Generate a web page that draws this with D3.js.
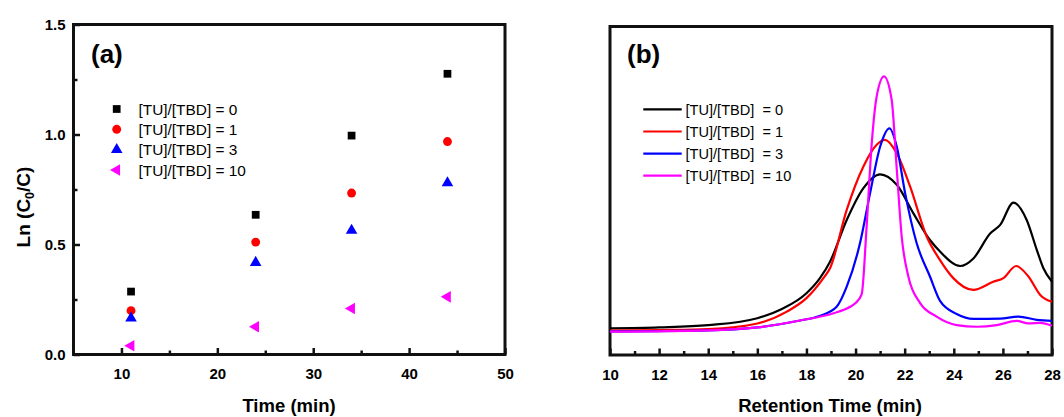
<!DOCTYPE html>
<html><head><meta charset="utf-8">
<script src="https://cdn.jsdelivr.net/npm/d3@7"></script>
<style>
html,body{margin:0;padding:0;background:#fff;}
svg{display:block;}
text{font-family:"Liberation Sans",Arial,sans-serif;}
</style></head>
<body>
<svg id="chart" width="1064" height="417" xmlns="http://www.w3.org/2000/svg"></svg>
<script>
// ---------- Panel (a) data ----------
const seriesLabels = ["[TU]/[TBD] = 0", "[TU]/[TBD] = 1", "[TU]/[TBD] = 3", "[TU]/[TBD] = 10"];
const seriesLabelsB = ["[TU]/[TBD]\u00a0\u00a0= 0", "[TU]/[TBD]\u00a0\u00a0= 1", "[TU]/[TBD]\u00a0\u00a0= 3", "[TU]/[TBD]\u00a0\u00a0= 10"];
const seriesColors = ["#000000", "#ff0000", "#0000ff", "#ff00ff"];
const timesA = [11, 24, 34, 44];
const lnTU0 = [0.286, 0.635, 0.995, 1.276];
const lnTU1 = [0.199, 0.511, 0.734, 0.968];
const lnTU3 = [0.165, 0.418, 0.564, 0.780];
const lnTU10 = [0.040, 0.126, 0.209, 0.262];
const xTicksA = [10, 20, 30, 40, 50];
const yTicksA = [0.0, 0.5, 1.0, 1.5];

// ---------- Panel (b) data (GPC traces, arbitrary intensity) ----------
const xTicksB = [10, 12, 14, 16, 18, 20, 22, 24, 26, 28];
const rtTU0  = [10, 12, 14, 16, 17, 18, 18.55, 18.96, 19.64, 20.32, 21.0, 21.68, 22.35, 23.03, 23.44, 24.26, 24.8, 25.48, 25.89, 26.43, 26.97, 27.38, 27.65, 28];
const gpcTU0 = [8.1, 8.4, 9.1, 11.2, 14.0, 18.8, 23.4, 28.4, 41.1, 50.8, 55.0, 51.8, 43.2, 35.0, 31.5, 27.1, 29.4, 37.0, 39.6, 46.4, 41.1, 32.0, 26.4, 22.3];
const rtTU1  = [10, 12, 14, 16, 17.2, 18, 18.69, 18.96, 19.64, 20.32, 20.86, 21.2, 21.68, 22.22, 22.9, 23.44, 23.98, 24.8, 25.61, 26.02, 26.54, 27.04, 27.52, 28];
const gpcTU1 = [7.4, 7.6, 7.9, 9.6, 13.2, 17.3, 23.4, 26.4, 44.2, 57.4, 64.0, 65.5, 61.4, 51.3, 36.0, 28.9, 23.4, 19.8, 22.3, 23.4, 27.1, 23.9, 18.3, 16.2];
const rtTU3  = [10, 14, 16, 17.74, 18.5, 19.23, 19.64, 20.18, 20.59, 21.0, 21.38, 21.68, 22.02, 22.49, 23.03, 23.44, 24.12, 24.8, 25.89, 26.63, 27.38, 28];
const gpcTU3 = [7.2, 7.5, 8.4, 10.5, 11.8, 14.7, 20.8, 34.0, 49.2, 63.4, 69.0, 63.4, 49.2, 34.0, 23.9, 16.5, 12.5, 11.0, 11.1, 11.7, 10.7, 10.4];
const rtTU10  = [10, 14, 16, 17.74, 19.1, 19.78, 20.0, 20.25, 20.45, 20.66, 20.86, 21.16, 21.47, 21.68, 21.88, 22.15, 22.63, 23.3, 24.12, 24.94, 25.75, 26.56, 27.04, 27.52, 28];
const gpcTU10 = [7.1, 7.5, 8.4, 10.5, 12.7, 14.7, 15.8, 18.5, 39.0, 64.5, 78.7, 84.8, 77.7, 56.4, 36.0, 23.9, 15.8, 11.7, 9.1, 8.6, 9.1, 10.4, 9.6, 9.8, 8.9];

const svg = d3.select("#chart");
const INK = "#111111";

const A = {l: 73.5, r: 505, t: 24.5, b: 354.5};
const xA = d3.scaleLinear().domain([5, 50]).range([A.l, A.r]);
const yA = d3.scaleLinear().domain([0, 1.5]).range([A.b, A.t]);
const B = {l: 610, r: 1052, t: 26.5, b: 355};
const xB = d3.scaleLinear().domain([10, 28]).range([B.l, B.r]);
const yB = d3.scaleLinear().domain([0, 100]).range([B.b, B.t]);

// ----- frames (stroked rects, drawn first) -----
[A, B].forEach(P => {
  svg.append("rect").attr("x", P.l).attr("y", P.t).attr("width", P.r - P.l).attr("height", P.b - P.t)
    .attr("fill", "none").attr("stroke", INK).attr("stroke-width", 3);
});

function styleAxis(g) {
  g.select(".domain").remove();
  g.selectAll(".tick line").attr("stroke", INK).attr("stroke-width", 2.5);
  g.selectAll(".tick text").attr("font-family", '"Liberation Sans",Arial,sans-serif')
    .attr("font-size", 15).attr("font-weight", "bold").attr("fill", "#000");
}

// ----- Panel (a) axes -----
svg.append("g").attr("transform", `translate(0,${A.b})`)
  .call(d3.axisBottom(xA).tickValues(xTicksA).tickSizeInner(-6.5).tickSizeOuter(0).tickPadding(14).tickFormat(d3.format("d")))
  .call(styleAxis);
svg.append("g").attr("transform", `translate(0,${A.b})`)
  .call(d3.axisBottom(xA).tickValues([15, 25, 35, 45]).tickSizeInner(-4).tickSizeOuter(0).tickFormat(() => ""))
  .call(styleAxis);
svg.append("g").attr("transform", `translate(${A.l},0)`)
  .call(d3.axisLeft(yA).tickValues(yTicksA).tickSizeInner(-6.5).tickSizeOuter(0).tickPadding(8).tickFormat(d3.format(".1f")))
  .call(styleAxis);
svg.append("g").attr("transform", `translate(${A.l},0)`)
  .call(d3.axisLeft(yA).tickValues([0.25, 0.75, 1.25]).tickSizeInner(-4).tickSizeOuter(0).tickFormat(() => ""))
  .call(styleAxis);

// ----- Panel (b) axes -----
svg.append("g").attr("transform", `translate(0,${B.b})`)
  .call(d3.axisBottom(xB).tickValues(xTicksB).tickSizeInner(-6.5).tickSizeOuter(0).tickPadding(14).tickFormat(d3.format("d")))
  .call(styleAxis);
svg.append("g").attr("transform", `translate(0,${B.b})`)
  .call(d3.axisBottom(xB).tickValues(d3.range(11, 28, 2)).tickSizeInner(-4).tickSizeOuter(0).tickFormat(() => ""))
  .call(styleAxis);

// ----- Panel (a) marks -----
const symTypes = [d3.symbolSquare, d3.symbolCircle, d3.symbolTriangle, d3.symbolTriangle];
const symSizes = [60, 62, 58, 58];
const symRot = [0, 0, 0, -90];
const seriesA = [lnTU0, lnTU1, lnTU3, lnTU10];
seriesA.forEach((vals, i) => {
  const sym = d3.symbol().type(symTypes[i]).size(symSizes[i]);
  svg.selectAll(null).data(timesA.map((t, k) => [t, vals[k]])).join("path")
    .attr("d", sym)
    .attr("transform", d => `translate(${xA(d[0])},${yA(d[1])}) rotate(${symRot[i]})`)
    .attr("fill", seriesColors[i]);
});
const legA = [109, 129.3, 149.6, 170];
seriesLabels.forEach((lab, i) => {
  const sym = d3.symbol().type(symTypes[i]).size(symSizes[i]);
  svg.append("path").attr("d", sym)
    .attr("transform", `translate(116.7,${legA[i]}) rotate(${symRot[i]})`)
    .attr("fill", seriesColors[i]);
  svg.append("text").attr("x", 138.5).attr("y", legA[i] + 5.5)
    .attr("font-size", 15.4).text(lab);
});
svg.append("text").attr("x", 289).attr("y", 412).attr("text-anchor", "middle")
  .attr("font-size", 18.5).attr("font-weight", "bold").text("Time (min)");
const yt = svg.append("text").attr("transform", "translate(30,207) rotate(-90)")
  .attr("text-anchor", "middle").attr("font-size", 19).attr("font-weight", "bold");
yt.append("tspan").text("Ln (C");
yt.append("tspan").attr("font-size", 12.5).attr("dy", 4).text("0");
yt.append("tspan").attr("dy", -4).text("/C)");
svg.append("text").attr("x", 91).attr("y", 63).attr("font-size", 26).attr("font-weight", "bold").text("(a)");

// ----- Panel (b) marks -----
const rts = [rtTU0, rtTU1, rtTU3, rtTU10];
const gpcs = [gpcTU0, gpcTU1, gpcTU3, gpcTU10];
const lineGen = d3.line().x(d => xB(d[0])).y(d => yB(d[1])).curve(d3.curveMonotoneX);
[0, 1, 2, 3].forEach(i => {
  svg.append("path").datum(rts[i].map((t, k) => [t, gpcs[i][k]]))
    .attr("d", lineGen).attr("fill", "none").attr("stroke", seriesColors[i])
    .attr("stroke-width", 2.2);
});
svg.append("text").attr("x", 830).attr("y", 412).attr("text-anchor", "middle")
  .attr("font-size", 18.5).attr("font-weight", "bold").text("Retention Time (min)");
svg.append("text").attr("x", 627).attr("y", 63).attr("font-size", 26).attr("font-weight", "bold").text("(b)");
const legB = [109.3, 131.5, 153.6, 175.7];
seriesLabelsB.forEach((lab, i) => {
  svg.append("line").attr("x1", 643.3).attr("x2", 681.7).attr("y1", legB[i]).attr("y2", legB[i])
    .attr("stroke", seriesColors[i]).attr("stroke-width", 2.2);
  svg.append("text").attr("x", 685.5).attr("y", legB[i] + 5.3)
    .attr("font-size", 14.6).text(lab);
});
</script>
</body></html>
